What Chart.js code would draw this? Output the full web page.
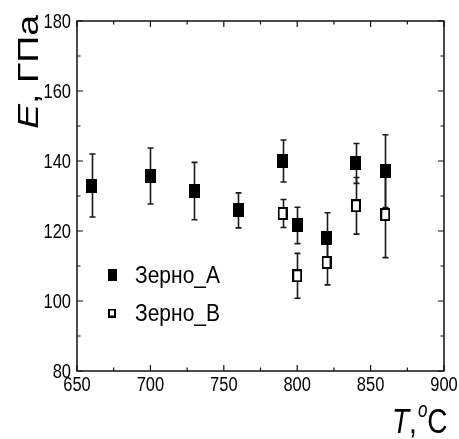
<!DOCTYPE html>
<html><head><meta charset="utf-8">
<script src="https://cdn.jsdelivr.net/npm/chart.js@4"></script>
<style>html,body{margin:0;padding:0;background:#fff}</style>
</head><body>
<canvas id="c" width="459" height="439" style="width:459px;height:439px;display:block"></canvas>
<script>
const temperaturesA = [660, 700, 730, 760, 790, 800, 820, 840, 860];
const modulusA      = [133, 135.7, 131.4, 125.9, 140, 121.6, 118, 139.3, 137.1];
const errorA        = [9, 8, 8.2, 5, 6, 5.2, 7.2, 5.7, 10.4];
const temperaturesB = [790, 800, 820, 840, 860];
const modulusB      = [125, 107.2, 111, 127.2, 124.7];
const errorB        = [4, 6.4, 6.4, 8.1, 12.3];
const seriesNames   = ['Зерно_А', 'Зерно_В'];
const xTickValues   = [650, 700, 750, 800, 850, 900];
const yTickValues   = [80, 100, 120, 140, 160, 180];
const xMinorValues  = [675, 725, 775, 825, 875];
const yMinorValues  = [90, 110, 130, 150, 170];

const SANS = "'Liberation Sans', Arial, sans-serif";

function makeMarker(w, h, filled) {
  const cv = document.createElement('canvas');
  cv.width = w; cv.height = h;
  const g = cv.getContext('2d');
  if (filled) { g.fillStyle = '#000'; g.fillRect(0, 0, w, h); }
  else {
    g.fillStyle = '#fff'; g.fillRect(0, 0, w, h);
    g.strokeStyle = '#000'; g.lineWidth = 2; g.strokeRect(1, 1, w - 2, h - 2);
  }
  return cv;
}
const markA = makeMarker(11, 14, true);
const markB = makeMarker(10, 13, false);
const legA = makeMarker(9, 12, true);
const legB = makeMarker(8, 9, false);

const dataA = temperaturesA.map((t, i) => ({x: t, y: modulusA[i], e: errorA[i]}));
const dataB = temperaturesB.map((t, i) => ({x: t, y: modulusB[i], e: errorB[i]}));

const errorBars = {
  id: 'errorBars',
  beforeDatasetsDraw(chart) {
    const ctx = chart.ctx, xs = chart.scales.x, ys = chart.scales.y;
    ctx.save();
    ctx.strokeStyle = '#1a1a1a'; ctx.lineWidth = 1.6;
    chart.data.datasets.forEach(ds => {
      ds.data.forEach(p => {
        const px = Math.round(xs.getPixelForValue(p.x)) + 0.5;
        const top = ys.getPixelForValue(p.y + p.e);
        const bot = ys.getPixelForValue(p.y - p.e);
        ctx.beginPath();
        ctx.moveTo(px, top); ctx.lineTo(px, bot);
        ctx.moveTo(px - 3, top); ctx.lineTo(px + 3, top);
        ctx.moveTo(px - 3, bot); ctx.lineTo(px + 3, bot);
        ctx.stroke();
      });
    });
    ctx.restore();
  }
};

function stretchedText(ctx, text, x, y, font, sy, align) {
  ctx.save();
  ctx.translate(x, y);
  ctx.scale(1, sy);
  ctx.font = font;
  ctx.textAlign = align;
  ctx.textBaseline = 'alphabetic';
  ctx.fillText(text, 0, 0);
  ctx.restore();
}

const frame = {
  id: 'frame',
  afterDraw(chart) {
    const ctx = chart.ctx, a = chart.chartArea, xs = chart.scales.x, ys = chart.scales.y;
    ctx.save();
    ctx.strokeStyle = '#111'; ctx.lineWidth = 1.5;
    ctx.strokeRect(a.left, a.top, a.right - a.left, a.bottom - a.top);
    ctx.lineWidth = 1.2;
    ctx.beginPath();
    const tickX = (v, len) => {
      const p = xs.getPixelForValue(v);
      ctx.moveTo(p, a.bottom); ctx.lineTo(p, a.bottom - len);
      ctx.moveTo(p, a.top); ctx.lineTo(p, a.top + len);
    };
    const tickY = (v, len) => {
      const p = ys.getPixelForValue(v);
      ctx.moveTo(a.left, p); ctx.lineTo(a.left + len, p);
      ctx.moveTo(a.right, p); ctx.lineTo(a.right - len, p);
    };
    xTickValues.forEach(v => tickX(v, 6));
    xMinorValues.forEach(v => tickX(v, 3.5));
    yTickValues.forEach(v => tickY(v, 6));
    yMinorValues.forEach(v => tickY(v, 3.5));
    ctx.stroke();

    ctx.fillStyle = '#000';
    // tick labels
    const tf = '16.5px ' + SANS;
    xs.ticks.forEach(t => stretchedText(ctx, String(t.value), xs.getPixelForValue(t.value), a.bottom + 20, tf, 1.22, 'center'));
    ys.ticks.forEach(t => stretchedText(ctx, String(t.value), a.left - 6, ys.getPixelForValue(t.value) + 7, tf, 1.22, 'right'));

    // legend
    const lx = 112, ly = [275, 313];
    ctx.drawImage(legA, lx - 4.5, ly[0] - 6);
    ctx.drawImage(legB, lx - 4, ly[1] - 4.5);
    stretchedText(ctx, seriesNames[0], 135, ly[0] + 8, '21px ' + SANS, 1.12, 'left');
    stretchedText(ctx, seriesNames[1], 135, ly[1] + 8, '21px ' + SANS, 1.12, 'left');

    // y title (rotated, stretched along its length)
    ctx.save();
    ctx.translate(38, 15);
    ctx.rotate(-Math.PI / 2);
    ctx.scale(1.25, 1);
    ctx.textBaseline = 'alphabetic';
    ctx.textAlign = 'left';
    ctx.font = 'italic 30px ' + SANS;
    const w1 = ctx.measureText('E').width;
    ctx.font = '30px ' + SANS;
    const w2 = ctx.measureText(', ГПа').width;
    ctx.font = 'italic 30px ' + SANS;
    ctx.fillText('E', -(w1 + w2), 0);
    ctx.font = '30px ' + SANS;
    ctx.fillText(', ГПа', -w2, 0);
    ctx.restore();

    // x title
    const by = 433;
    let x = 392;
    ctx.font = 'italic 28px ' + SANS;
    const wT = ctx.measureText('T').width;
    ctx.font = '28px ' + SANS;
    const wc = ctx.measureText(',').width;
    ctx.font = 'italic 17px ' + SANS;
    const wo = ctx.measureText('o').width;
    stretchedText(ctx, 'T', x, by, 'italic 28px ' + SANS, 1.25, 'left'); x += wT;
    stretchedText(ctx, ',', x, by, '28px ' + SANS, 1.25, 'left'); x += wc + 1;
    stretchedText(ctx, 'o', x, by - 16, 'italic 17px ' + SANS, 1.25, 'left'); x += wo;
    stretchedText(ctx, 'C', x, by, '28px ' + SANS, 1.25, 'left');
    ctx.restore();
  }
};

new Chart(document.getElementById('c'), {
  type: 'scatter',
  data: {
    datasets: [
      {label: seriesNames[0], data: dataA, pointStyle: markA, order: 1},
      {label: seriesNames[1], data: dataB, pointStyle: markB, order: 0}
    ]
  },
  options: {
    responsive: false,
    devicePixelRatio: 1,
    animation: false,
    layout: {padding: {left: 0, top: 21, right: 15, bottom: 0}},
    plugins: {legend: {display: false}, tooltip: {enabled: false}},
    scales: {
      x: {
        type: 'linear', min: 650, max: 900,
        afterBuildTicks: s => { s.ticks = xTickValues.map(v => ({value: v})); },
        afterFit: s => { s.height = 68; },
        grid: {display: false, drawTicks: false},
        border: {display: false},
        ticks: {display: false}
      },
      y: {
        type: 'linear', min: 80, max: 180,
        afterBuildTicks: s => { s.ticks = yTickValues.map(v => ({value: v})); },
        afterFit: s => { s.width = 77; },
        grid: {display: false, drawTicks: false},
        border: {display: false},
        ticks: {display: false}
      }
    }
  },
  plugins: [errorBars, frame]
});
</script>
</body></html>
